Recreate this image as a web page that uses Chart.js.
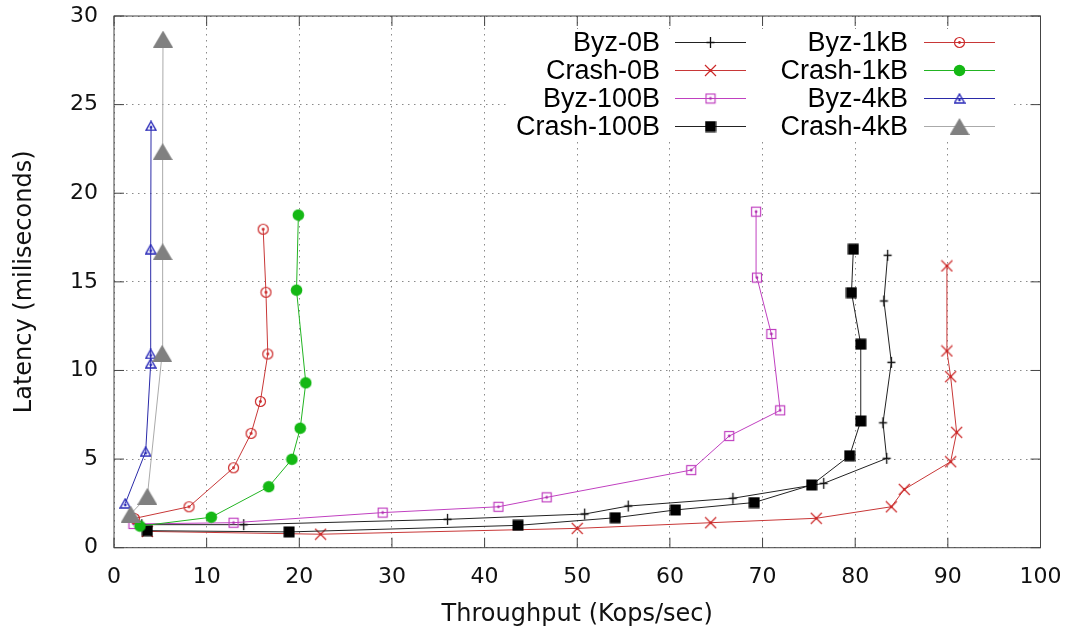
<!DOCTYPE html>
<html>
<head>
<meta charset="utf-8">
<title>Throughput vs latency</title>
<script src="https://cdn.jsdelivr.net/npm/chart.js@4.4.1/dist/chart.umd.min.js"></script>
<style>
  html, body { margin: 0; padding: 0; background: #fff; }
  #wrap { width: 1071px; height: 631px; }
</style>
</head>
<body>
<div id="wrap"><canvas id="chart" width="1071" height="631"></canvas></div>
<script>
// [throughput Kops/sec, latency ms]
const byz0B    = [[3.0,1.30],[14.0,1.30],[36.0,1.60],[50.8,1.90],[55.5,2.35],[66.8,2.79],[76.6,3.63],[83.4,5.04],[83.0,7.05],[83.9,10.46],[83.1,13.92],[83.5,16.5]];
const crash0B  = [[3.6,0.92],[22.3,0.76],[50.0,1.09],[64.4,1.41],[75.8,1.66],[83.9,2.31],[85.3,3.29],[90.3,4.85],[90.95,6.51],[90.3,9.65],[89.9,11.1],[89.9,15.9]];
const byz100B  = [[2.1,1.34],[12.9,1.41],[29.0,1.98],[41.5,2.31],[46.7,2.84],[62.3,4.38],[66.4,6.30],[71.9,7.75],[70.95,12.06],[69.4,15.24],[69.3,18.96]];
const crash100B = [[3.6,0.96],[18.9,0.89],[43.6,1.26],[54.1,1.69],[60.6,2.13],[69.1,2.55],[75.3,3.54],[79.4,5.19],[80.6,7.15],[80.6,11.48],[79.6,14.39],[79.8,16.84]];
const byz1kB   = [[2.2,1.65],[8.1,2.31],[12.9,4.51],[14.8,6.45],[15.8,8.25],[16.6,10.93],[16.4,14.41],[16.1,17.97]];
const crash1kB = [[2.8,1.22],[10.5,1.72],[16.7,3.44],[19.2,4.99],[20.1,6.74],[20.7,9.3],[19.7,14.53],[19.9,18.77]];
const byz4kB   = [[1.22,2.5],[3.42,5.42],[3.96,10.4],[3.96,10.93],[3.96,16.84],[4.0,23.8]];
const crash4kB = [[1.8,1.9],[3.6,2.9],[5.2,10.97],[5.25,16.7],[5.25,22.35],[5.29,28.7]];

const seriesNames = ['Byz-0B','Crash-0B','Byz-100B','Crash-100B','Byz-1kB','Crash-1kB','Byz-4kB','Crash-4kB'];
const seriesData = [byz0B, crash0B, byz100B, crash100B, byz1kB, crash1kB, byz4kB, crash4kB];

const lineColors = ['#222222','#c83737','#c040c0','#222222','#c83737','#22b422','#2a2aa8','#aaaaaa'];

// small canvases used as point images (gnuplot-like symbols)
function makeMarker(w, h, paint) {
    const c = document.createElement('canvas');
    c.width = w; c.height = h;
    paint(c.getContext('2d'), w / 2, h / 2);
    return c;
}
function dot(g, cx, cy, col) {
    g.fillStyle = col;
    g.beginPath(); g.arc(cx, cy, 1.4, 0, Math.PI * 2); g.fill();
}

const markers = [
    makeMarker(11, 13, (g, cx, cy) => {          // plus
        g.strokeStyle = '#111'; g.lineWidth = 1.3;
        g.beginPath(); g.moveTo(cx, 1); g.lineTo(cx, 12); g.moveTo(cx - 4, cy); g.lineTo(cx + 4, cy); g.stroke();
    }),
    makeMarker(13, 13, (g, cx, cy) => {          // x
        g.strokeStyle = '#cc2a2a'; g.lineWidth = 1.2;
        g.beginPath(); g.moveTo(1, 1); g.lineTo(12, 12); g.moveTo(12, 1); g.lineTo(1, 12); g.stroke();
        dot(g, cx, cy, '#cc2a2a');
    }),
    makeMarker(12, 12, (g, cx, cy) => {          // open square
        g.strokeStyle = '#c040c0'; g.lineWidth = 1.2;
        g.strokeRect(1.5, 1.5, 9, 9);
        dot(g, cx, cy, '#b030b0');
    }),
    makeMarker(12, 12, (g) => {                  // filled square
        g.fillStyle = '#000'; g.fillRect(0.5, 0.5, 11, 11);
    }),
    makeMarker(13, 13, (g, cx, cy) => {          // open circle
        g.strokeStyle = '#cc2a2a'; g.lineWidth = 1.2;
        g.beginPath(); g.arc(cx, cy, 5, 0, Math.PI * 2); g.stroke();
        dot(g, cx, cy, '#cc2a2a');
    }),
    makeMarker(13, 13, (g, cx, cy) => {          // filled circle
        g.fillStyle = '#14b814';
        g.beginPath(); g.arc(cx, cy, 5.8, 0, Math.PI * 2); g.fill();
    }),
    makeMarker(12, 11, (g, cx, cy) => {          // open triangle
        g.strokeStyle = '#2a2ab8'; g.lineWidth = 1.4;
        g.beginPath(); g.moveTo(cx, 1); g.lineTo(11, 10); g.lineTo(1, 10); g.closePath(); g.stroke();
        dot(g, cx, cy + 1.5, '#2a2ab8');
    }),
    makeMarker(20, 17, (g, cx) => {              // filled triangle
        g.fillStyle = '#808080';
        g.beginPath(); g.moveTo(cx, 0); g.lineTo(20, 17); g.lineTo(0, 17); g.closePath(); g.fill();
    })
];

const datasets = seriesData.map((pts, i) => ({
    label: seriesNames[i],
    data: pts.map(p => ({ x: p[0], y: p[1] })),
    showLine: true,
    borderColor: lineColors[i],
    borderWidth: 1,
    pointStyle: markers[i],
    pointRadius: 5,
    tension: 0,
    order: seriesData.length - i
}));

// border with inward ticks on all four sides
const framePlugin = {
    id: 'frame',
    beforeDatasetsDraw(chart) {
        const { ctx, chartArea: a, scales: { x, y } } = chart;
        ctx.save();
        ctx.strokeStyle = '#444';
        ctx.lineWidth = 1;
        ctx.strokeRect(a.left, a.top, a.right - a.left, a.bottom - a.top);
        ctx.beginPath();
        x.ticks.forEach(t => {
            const px = x.getPixelForValue(t.value);
            ctx.moveTo(px, a.bottom); ctx.lineTo(px, a.bottom - 10);
            ctx.moveTo(px, a.top); ctx.lineTo(px, a.top + 10);
        });
        y.ticks.forEach(t => {
            const py = y.getPixelForValue(t.value);
            ctx.moveTo(a.left, py); ctx.lineTo(a.left + 10, py);
            ctx.moveTo(a.right, py); ctx.lineTo(a.right - 10, py);
        });
        ctx.stroke();
        ctx.restore();
    }
};

// two-column key: text, then line sample with symbol
const keyPlugin = {
    id: 'key',
    afterDatasetsDraw(chart) {
        const ctx = chart.ctx;
        ctx.save();
        ctx.fillStyle = '#fff';
        ctx.fillRect(508, 29, 502, 112);
        ctx.font = '27px "Liberation Sans", Arial, sans-serif';
        ctx.textAlign = 'right';
        ctx.textBaseline = 'middle';
        chart.data.datasets.forEach((ds, i) => {
            const col = Math.floor(i / 4), row = i % 4;
            const yy = 42.5 + row * 28;
            const tx = col ? 908 : 660;
            const lx = col ? 924 : 675;
            ctx.fillStyle = '#000';
            ctx.fillText(ds.label, tx, yy + 1);
            ctx.strokeStyle = ds.borderColor;
            ctx.lineWidth = 1;
            ctx.beginPath(); ctx.moveTo(lx, yy); ctx.lineTo(lx + 71, yy); ctx.stroke();
            const m = ds.pointStyle;
            ctx.drawImage(m, lx + 35.5 - m.width / 2, yy - m.height / 2);
        });
        ctx.restore();
    }
};

const tickFont = { family: '"DejaVu Sans", sans-serif', size: 22 };
const titleFont = { family: '"DejaVu Sans", sans-serif', size: 24 };

// pin the plot box: no extra room for edge labels
function fixX(s) { s.height = 83.3; s.paddingLeft = 0; s.paddingRight = 0; }
function fixY(s) { s.width = 114; s.paddingTop = 0; s.paddingBottom = 0; }

new Chart(document.getElementById('chart'), {
    type: 'scatter',
    data: { datasets },
    plugins: [framePlugin, keyPlugin],
    options: {
        responsive: false,
        animation: false,
        devicePixelRatio: 1,
        layout: { padding: { left: 0, right: 30.5, top: 16, bottom: 0 } },
        plugins: { legend: { display: false }, tooltip: { enabled: false } },
        scales: {
            x: {
                type: 'linear', min: 0, max: 100,
                afterFit: fixX,
                ticks: { stepSize: 10, padding: 16, color: '#111', font: tickFont },
                grid: { color: '#8a8a8a', lineWidth: 1, drawTicks: false, borderDash: [1.5, 4.5] },
                border: { display: false, dash: [1.5, 4.5] },
                title: { display: true, text: 'Throughput (Kops/sec)', color: '#111', font: titleFont, padding: { top: 0, bottom: 2 } }
            },
            y: {
                type: 'linear', min: 0, max: 30,
                afterFit: fixY,
                ticks: { stepSize: 5, padding: 16, color: '#111', font: tickFont },
                grid: { color: '#8a8a8a', lineWidth: 1, drawTicks: false, borderDash: [1.5, 4.5] },
                border: { display: false, dash: [1.5, 4.5] },
                title: { display: true, text: 'Latency (miliseconds)', color: '#111', font: titleFont, padding: { top: 10, bottom: 0 } }
            }
        }
    }
});
</script>
</body>
</html>
